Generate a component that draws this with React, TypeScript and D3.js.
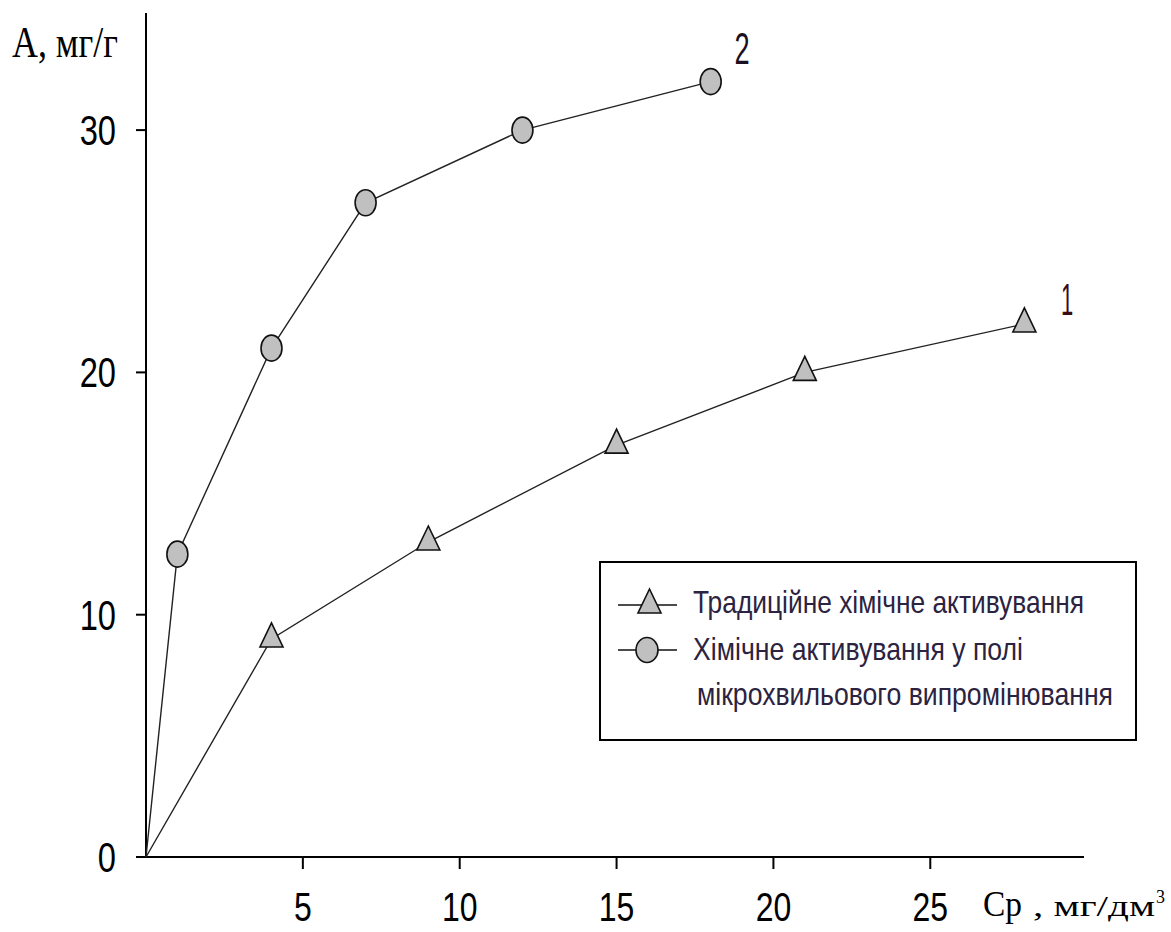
import React from "react";
import * as d3 from "d3";

// Adsorption isotherms: A (mg/g) versus equilibrium concentration Cp (mg/dm³)
const traditionalCp = [0, 4, 9, 15, 21, 28];
const traditionalA = [0, 9, 13, 17, 20, 22];
const microwaveCp = [0, 1, 4, 7, 12, 18];
const microwaveA = [0, 12.5, 21, 27, 30, 32];

const xTicks = [5, 10, 15, 20, 25];
const yTicks = [0, 10, 20, 30];

const legendLabels = [
  "Традиційне хімічне активування",
  "Хімічне активування у полі",
  "мікрохвильового випромінювання",
];

const W = 1171;
const H = 932;

const x = d3.scaleLinear().domain([0, 29.9]).range([146, 1084]);
const y = d3.scaleLinear().domain([0, 35]).range([857, 857 - 35 * 24.23]);

type Pt = [number, number];
const zip = (a: number[], b: number[]): Pt[] => a.map((v, i) => [v, b[i]]);

const line = d3
  .line<Pt>()
  .x((d) => x(d[0]))
  .y((d) => y(d[1]));

const sans = "'Liberation Sans', Arial, sans-serif";
const serif = "'Liberation Serif', 'Times New Roman', serif";

function Triangle({ cx, cy }: { cx: number; cy: number }) {
  const p = `M${cx},${cy - 16} L${cx + 11.5},${cy + 8} L${cx - 11.5},${cy + 8} Z`;
  return <path d={p} fill="#c0c0c0" stroke="#111" strokeWidth={1.6} />;
}

function Oval({ cx, cy }: { cx: number; cy: number }) {
  return <ellipse cx={cx} cy={cy} rx={10.5} ry={13} fill="#c0c0c0" stroke="#111" strokeWidth={1.6} />;
}

function Squeezed({
  x0,
  y0,
  sx,
  size,
  anchor,
  family,
  fill,
  children,
}: {
  x0: number;
  y0: number;
  sx: number;
  size: number;
  anchor?: "start" | "middle" | "end";
  family: string;
  fill?: string;
  children: React.ReactNode;
}) {
  return (
    <text
      transform={`translate(${x0},${y0}) scale(${sx},1)`}
      fontSize={size}
      fontFamily={family}
      textAnchor={anchor || "start"}
      fill={fill || "#000"}
    >
      {children}
    </text>
  );
}

// Narrow legend line: horizontally condensed, stretched to a fixed on-screen width
function LegendText({ x0, y0, len, children }: { x0: number; y0: number; len: number; children: React.ReactNode }) {
  const sx = 0.78;
  return (
    <g transform={`translate(${x0},${y0}) scale(${sx},1)`}>
      <text
        x={0}
        y={0}
        fontSize={32}
        fontFamily={sans}
        fill="#2b2340"
        textLength={len / sx}
        lengthAdjust="spacingAndGlyphs"
      >
        {children}
      </text>
    </g>
  );
}

export default function App() {
  const trad = zip(traditionalCp, traditionalA);
  const micro = zip(microwaveCp, microwaveA);
  const x0 = x(0);
  const y0 = y(0);

  return (
    <svg
      width={W}
      height={H}
      viewBox={`0 0 ${W} ${H}`}
      style={{ position: "absolute", left: 0, top: 0, background: "#fff", display: "block" }}
    >
      <rect x={0} y={0} width={W} height={H} fill="#fff" />

      {/* axes */}
      <line x1={x0} y1={13} x2={x0} y2={y0} stroke="#000" strokeWidth={2} />
      <line x1={136} y1={y0} x2={x(29.9)} y2={y0} stroke="#000" strokeWidth={2} />

      {yTicks.map((t) => (
        <g key={`yt${t}`}>
          {t > 0 && <line x1={136} x2={x0} y1={y(t)} y2={y(t)} stroke="#000" strokeWidth={2} />}
          <Squeezed x0={116} y0={y(t) + 15} sx={0.76} size={43} anchor="end" family={sans}>
            {t}
          </Squeezed>
        </g>
      ))}

      {xTicks.map((t) => (
        <g key={`xt${t}`}>
          <line x1={x(t)} x2={x(t)} y1={y0} y2={y0 + 12} stroke="#000" strokeWidth={2} />
          <Squeezed x0={x(t)} y0={921} sx={0.78} size={41} anchor="middle" family={sans}>
            {t}
          </Squeezed>
        </g>
      ))}

      {/* axis titles */}
      <text x={12} y={57} fontSize={44} fontFamily={serif} textLength={106} lengthAdjust="spacingAndGlyphs">
        А, мг/г
      </text>
      <text x={983} y={916} fontSize={36} fontFamily={serif} textLength={39} lengthAdjust="spacingAndGlyphs">
        Ср
      </text>
      <text x={1033} y={916} fontSize={30} fontFamily={serif} textLength={122} lengthAdjust="spacingAndGlyphs">
        , мг/дм
      </text>
      <text x={1156} y={903} fontSize={19} fontFamily={serif} textLength={9} lengthAdjust="spacingAndGlyphs">
        3
      </text>

      {/* series lines */}
      <path d={line(trad) || ""} fill="none" stroke="#222" strokeWidth={1.4} />
      <path d={line(micro) || ""} fill="none" stroke="#222" strokeWidth={1.4} />

      {/* markers (origin point has no marker) */}
      {trad.slice(1).map((d, i) => (
        <Triangle key={`t${i}`} cx={x(d[0])} cy={y(d[1])} />
      ))}
      {micro.slice(1).map((d, i) => (
        <Oval key={`c${i}`} cx={x(d[0])} cy={y(d[1])} />
      ))}

      {/* curve numbers */}
      <Squeezed x0={742} y0={64} sx={0.62} size={44} anchor="middle" family={sans} fill="#1a1020">
        2
      </Squeezed>
      <Squeezed x0={1067} y0={315} sx={0.5} size={44} anchor="middle" family={sans} fill="#3a0c10">
        1
      </Squeezed>

      {/* legend */}
      <rect x={600} y={562} width={536} height={178} fill="#fff" stroke="#000" strokeWidth={2} />
      <line x1={618} x2={677} y1={605} y2={605} stroke="#111" strokeWidth={1.6} />
      <Triangle cx={649.5} cy={605} />
      <line x1={618} x2={677} y1={650} y2={650} stroke="#111" strokeWidth={1.6} />
      <ellipse cx={647} cy={650} rx={11} ry={12.5} fill="#c0c0c0" stroke="#111" strokeWidth={1.6} />
      <LegendText x0={693} y0={613} len={391}>
        {legendLabels[0]}
      </LegendText>
      <LegendText x0={693} y0={660} len={330}>
        {legendLabels[1]}
      </LegendText>
      <LegendText x0={697} y0={705} len={416}>
        {legendLabels[2]}
      </LegendText>
    </svg>
  );
}
